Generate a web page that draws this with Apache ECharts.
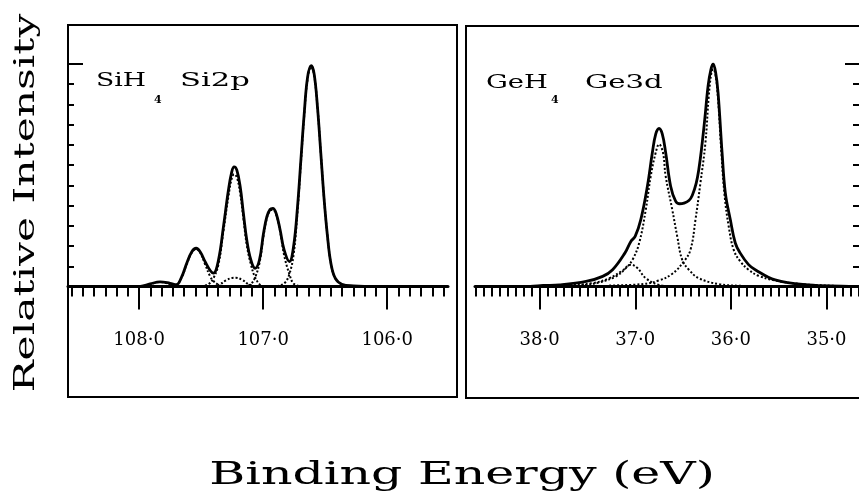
<!DOCTYPE html>
<html><head><meta charset="utf-8">
<script src="https://cdn.jsdelivr.net/npm/echarts@6/dist/echarts.min.js"></script>
<style>html,body{margin:0;padding:0;background:#fff}#c{width:859px;height:495px}</style>
</head><body><div id="c"></div>
<script>
// ---- tick definitions ----
const siMajorTicks = [108, 107, 106];
const siTickLabels = ['108·0', '107·0', '106·0'];
const geMajorTicks = [38, 37, 36, 35];
const geTickLabels = ['38·0', '37·0', '36·0', '35·0'];
const yMinorTicks = [1, 2, 3, 4, 5, 6, 7, 8, 9, 10];
const yMajorTicks = [11];
const siMinorPerUnit = 11;   // minor tick divisions per eV (left panel)
const geMinorPerUnit = 12;   // minor tick divisions per eV (right panel)
const siMinorTicks = [];
for (let k = -6; k <= 27; k++) siMinorTicks.push(108 - k / siMinorPerUnit);
const geMinorTicks = [];
for (let k = -40; k <= 8; k++) geMinorTicks.push(38 + k / geMinorPerUnit);

// ---- SiH4 Si2p (binding energy eV, relative intensity) ----
const siTotal = [[108.57,0],[108.10,0],[107.99,0.01],[107.911,0.13],[107.831,0.23],[107.75,0.16],[107.70,0.09],[107.656,0.49],[107.616,1.15],[107.575,1.72],[107.54,1.89],[107.508,1.72],[107.468,1.23],[107.427,0.79],[107.401,0.66],[107.36,1.31],[107.32,2.96],[107.28,4.76],[107.253,5.67],[107.234,5.91],[107.212,5.75],[107.185,4.93],[107.159,3.61],[107.132,2.30],[107.099,1.31],[107.065,0.90],[107.03,1.31],[106.997,2.63],[106.97,3.45],[106.944,3.81],[106.922,3.86],[106.895,3.61],[106.863,2.79],[106.831,1.81],[106.788,1.23],[106.755,1.97],[106.723,3.94],[106.696,6.24],[106.669,8.54],[106.642,10.34],[106.613,10.92],[106.589,10.51],[106.562,8.87],[106.535,6.57],[106.508,4.27],[106.481,2.46],[106.454,1.15],[106.419,0.41],[106.366,0.11],[106.272,0.03],[106.08,0],[105.51,0]];
const siComp1 = [[106.92,0],[106.86,0.06],[106.82,0.22],[106.788,0.62],[106.755,1.55],[106.723,3.7],[106.696,6.1],[106.669,8.45],[106.642,10.25],[106.613,10.85],[106.589,10.45],[106.562,8.87],[106.535,6.57],[106.508,4.27],[106.481,2.46],[106.454,1.15],[106.419,0.41],[106.366,0.11],[106.30,0]];
const siComp2 = [[107.15,0],[107.10,0.12],[107.065,0.45],[107.03,1.15],[106.997,2.5],[106.97,3.38],[106.944,3.75],[106.922,3.8],[106.895,3.55],[106.863,2.72],[106.831,1.55],[106.788,0.6],[106.755,0.15],[106.70,0]];
const siComp3 = [[107.50,0],[107.44,0.12],[107.40,0.42],[107.36,1.1],[107.32,2.75],[107.28,4.45],[107.253,5.35],[107.234,5.55],[107.212,5.4],[107.185,4.6],[107.159,3.35],[107.132,2.05],[107.099,1.1],[107.065,0.45],[107.03,0.12],[107.00,0]];
const siComp4 = [[107.40,0],[107.35,0.1],[107.30,0.3],[107.25,0.42],[107.22,0.43],[107.17,0.33],[107.12,0.12],[107.07,0]];
const siComp5 = [[107.74,0],[107.696,0.1],[107.656,0.45],[107.616,1.1],[107.575,1.68],[107.54,1.86],[107.508,1.68],[107.468,1.1],[107.427,0.5],[107.401,0.27],[107.36,0.08],[107.33,0]];
const siComp6 = [[107.98,0],[107.92,0.08],[107.87,0.18],[107.83,0.22],[107.80,0.2],[107.75,0.1],[107.70,0]];

// ---- GeH4 Ge3d ----
const geTotal = [[38.676,0],[38.10,0.01],[37.965,0.05],[37.792,0.08],[37.514,0.25],[37.341,0.50],[37.237,0.83],[37.109,1.65],[37.046,2.23],[37.001,2.48],[36.942,3.31],[36.873,4.96],[36.821,6.62],[36.786,7.53],[36.751,7.81],[36.717,7.53],[36.682,6.62],[36.63,4.96],[36.578,4.22],[36.536,4.09],[36.491,4.12],[36.439,4.25],[36.404,4.5],[36.363,5.1],[36.335,5.8],[36.307,6.8],[36.273,8.27],[36.238,9.93],[36.21,10.7],[36.186,11.0],[36.16,10.6],[36.134,9.59],[36.092,6.62],[36.058,4.63],[36.006,3.31],[35.954,2.15],[35.902,1.65],[35.815,1.08],[35.745,0.83],[35.537,0.33],[35.19,0.08],[34.844,0.02],[34.66,0]];
const geCompA = [[37.65,0],[37.514,0.08],[37.376,0.20],[37.202,0.50],[37.098,0.91],[37.029,1.32],[36.959,2.15],[36.89,3.80],[36.838,5.46],[36.786,6.62],[36.751,7.03],[36.71,6.62],[36.682,5.46],[36.613,3.80],[36.561,2.48],[36.509,1.32],[36.439,0.83],[36.335,0.41],[36.127,0.12],[35.884,0.03],[35.6,0]];
const geCompB = [[37.272,0.05],[36.925,0.12],[36.751,0.30],[36.613,0.63],[36.491,1.24],[36.422,1.82],[36.37,3.31],[36.318,5.13],[36.266,7.11],[36.231,9.43],[36.203,10.59],[36.186,10.75],[36.162,10.5],[36.134,9.26],[36.099,6.62],[36.065,4.47],[36.023,2.98],[35.971,1.82],[35.902,1.24],[35.815,0.83],[35.711,0.53],[35.537,0.30],[35.295,0.13],[35.017,0.05],[34.74,0]];
const geCompC = [[37.85,0],[37.792,0.03],[37.445,0.17],[37.272,0.41],[37.133,0.79],[37.046,1.08],[36.977,0.91],[36.89,0.41],[36.751,0.08],[36.578,0]];

const FONT = '"DejaVu Serif"';
const K = '#000';

function labelOf(vals, labs) {
  return v => { const i = vals.findIndex(t => Math.abs(t - v) < 1e-6); return i >= 0 ? labs[i] : ''; };
}
function xMinor(grid, min, max, ticks) {
  return { type: 'value', gridIndex: grid, min, max, inverse: true, position: 'bottom',
    axisLine: { show: true, onZero: false, lineStyle: { color: K, width: 3 } },
    axisTick: { show: true, customValues: ticks, length: 10, lineStyle: { color: K, width: 2 } },
    axisLabel: { show: false }, splitLine: { show: false } };
}
function xMajor(grid, min, max, ticks, labs) {
  return { type: 'value', gridIndex: grid, min, max, inverse: true, position: 'bottom',
    axisLine: { show: false, onZero: false },
    axisTick: { show: true, customValues: ticks, length: 23, lineStyle: { color: K, width: 2 } },
    axisLabel: { show: true, customValues: ticks, formatter: labelOf(ticks, labs), margin: 45,
      fontFamily: 'DejaVu Serif', fontSize: 18, color: K },
    splitLine: { show: false } };
}
function yAx(grid, pos, ticks, len) {
  return { type: 'value', gridIndex: grid, min: 0, max: 11, position: pos,
    axisLine: { show: false },
    axisTick: { show: true, inside: true, customValues: ticks, length: len, lineStyle: { color: K, width: 2 } },
    axisLabel: { show: false }, splitLine: { show: false } };
}
function ser(data, xi, yi, dotted) {
  return { type: 'line', xAxisIndex: xi, yAxisIndex: yi, data, symbol: 'none', showSymbol: false,
    smooth: 0.4, silent: true, z: dotted ? 2 : 3,
    lineStyle: dotted ? { color: K, width: 2, type: [2, 2] } : { color: K, width: 2.8 } };
}
function txt(text, x, y, size, sx) {
  return { type: 'text', x, y, scaleX: sx, silent: true,
    style: { text, font: size + 'px ' + FONT, fill: K, textAlign: 'left', textVerticalAlign: 'middle' } };
}

const chart = echarts.init(document.getElementById('c'));
chart.setOption({
  animation: false,
  backgroundColor: '#fff',
  grid: [
    { left: 68, top: 64, width: 380, height: 222.5 },
    { left: 475, top: 64, width: 386, height: 222.5 }
  ],
  xAxis: [
    xMinor(0, 105.51, 108.573, siMinorTicks),
    xMajor(0, 105.51, 108.573, siMajorTicks, siTickLabels),
    xMinor(1, 34.66, 38.676, geMinorTicks),
    xMajor(1, 34.66, 38.676, geMajorTicks, geTickLabels)
  ],
  yAxis: [
    yAx(0, 'left', yMinorTicks, 6),
    yAx(0, 'left', yMajorTicks, 15),
    yAx(1, 'right', yMinorTicks, 6),
    yAx(1, 'right', yMajorTicks, 14)
  ],
  series: [
    ser(siComp1, 0, 0, true), ser(siComp2, 0, 0, true), ser(siComp3, 0, 0, true),
    ser(siComp4, 0, 0, true), ser(siComp5, 0, 0, true), ser(siComp6, 0, 0, true),
    ser(siTotal, 0, 0, false),
    ser(geCompA, 2, 2, true), ser(geCompB, 2, 2, true), ser(geCompC, 2, 2, true),
    ser(geTotal, 2, 2, false)
  ],
  graphic: [
    { type: 'rect', shape: { x: 68, y: 25, width: 389, height: 372 }, style: { fill: 'none', stroke: K, lineWidth: 2 }, silent: true },
    { type: 'rect', shape: { x: 466, y: 26, width: 400, height: 372 }, style: { fill: 'none', stroke: K, lineWidth: 2 }, silent: true },
    { type: 'text', x: 27, y: 203, rotation: Math.PI / 2, scaleX: 1.57, silent: true,
      style: { text: 'Relative Intensity', font: '27px ' + FONT, fill: K, textAlign: 'center', textVerticalAlign: 'middle' } },
    { type: 'text', x: 462, y: 476, scaleX: 1.58, silent: true,
      style: { text: 'Binding Energy (eV)', font: '31px ' + FONT, fill: K, textAlign: 'center', textVerticalAlign: 'middle' } },
    txt('SiH', 96, 81, 18, 1.48),
    { type: 'text', x: 154, y: 100, silent: true,
      style: { text: '4', font: 'bold 11px ' + FONT, fill: K, textAlign: 'left', textVerticalAlign: 'middle' } },
    txt('Si2p', 180, 81, 18, 1.7),
    txt('GeH', 486, 83, 18, 1.52),
    { type: 'text', x: 551, y: 100, silent: true,
      style: { text: '4', font: 'bold 11px ' + FONT, fill: K, textAlign: 'left', textVerticalAlign: 'middle' } },
    txt('Ge3d', 585, 83, 18, 1.62)
  ]
});
</script></body></html>
